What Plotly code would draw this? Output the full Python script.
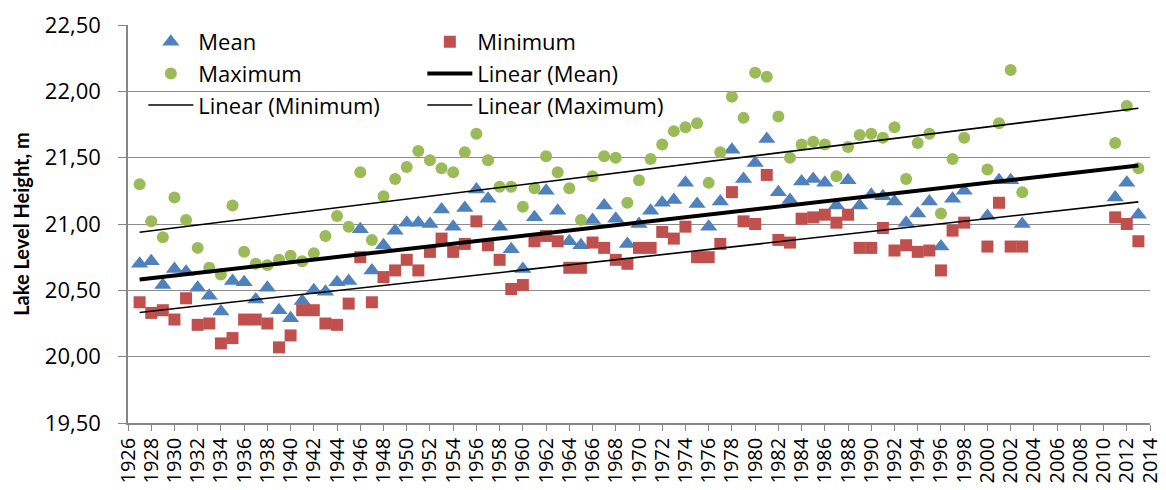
import numpy as np
import plotly.graph_objects as go

years = list(range(1927, 1999)) + [2000, 2001, 2002, 2003, 2011, 2012, 2013]

mean_vals = [20.70, 20.72, 20.54, 20.66, 20.64, 20.52, 20.46, 20.34, 20.57, 20.56,
             20.43, 20.52, 20.35, 20.29, 20.42, 20.50, 20.49, 20.56, 20.57, 20.96,
             20.65, 20.84, 20.95, 21.01, 21.01, 21.00, 21.11, 20.98, 21.12, 21.26,
             21.19, 20.98, 20.81, 20.66, 21.05, 21.25, 21.10, 20.87, 20.84, 21.03,
             21.14, 21.04, 20.85, 21.00, 21.10, 21.16, 21.18, 21.31, 21.15, 20.98,
             21.17, 21.56, 21.34, 21.46, 21.64, 21.24, 21.18, 21.32, 21.34, 21.31,
             21.14, 21.33, 21.14, 21.22, 21.21, 21.17, 21.01, 21.08, 21.17, 20.83,
             21.19, 21.25, 21.06, 21.33, 21.33, 21.00, 21.20, 21.31, 21.07]

min_vals = [20.41, 20.33, 20.35, 20.28, 20.44, 20.24, 20.25, 20.10, 20.14, 20.28,
            20.28, 20.25, 20.07, 20.16, 20.35, 20.35, 20.25, 20.24, 20.40, 20.75,
            20.41, 20.60, 20.65, 20.73, 20.65, 20.79, 20.89, 20.79, 20.85, 21.02,
            20.84, 20.73, 20.51, 20.54, 20.87, 20.91, 20.87, 20.67, 20.67, 20.86,
            20.82, 20.73, 20.70, 20.82, 20.82, 20.94, 20.89, 20.98, 20.75, 20.75,
            20.85, 21.24, 21.02, 21.00, 21.37, 20.88, 20.86, 21.04, 21.05, 21.07,
            21.01, 21.07, 20.82, 20.82, 20.97, 20.80, 20.84, 20.79, 20.80, 20.65,
            20.95, 21.01, 20.83, 21.16, 20.83, 20.83, 21.05, 21.00, 20.87]

max_vals = [21.30, 21.02, 20.90, 21.20, 21.03, 20.82, 20.67, 20.62, 21.14, 20.79,
            20.70, 20.69, 20.73, 20.76, 20.72, 20.78, 20.91, 21.06, 20.98, 21.39,
            20.88, 21.21, 21.34, 21.43, 21.55, 21.48, 21.42, 21.39, 21.54, 21.68,
            21.48, 21.28, 21.28, 21.13, 21.27, 21.51, 21.39, 21.27, 21.03, 21.36,
            21.51, 21.50, 21.16, 21.33, 21.49, 21.60, 21.70, 21.73, 21.76, 21.31,
            21.54, 21.96, 21.80, 22.14, 22.11, 21.81, 21.50, 21.60, 21.62, 21.60,
            21.36, 21.58, 21.67, 21.68, 21.65, 21.73, 21.34, 21.61, 21.68, 21.08,
            21.49, 21.65, 21.41, 21.76, 22.16, 21.24, 21.61, 21.89, 21.42]

FONT = "Open Sans"
TITLE_FONT = "Lato"
x = np.array(years, dtype=float)
x_line = np.array([x.min(), x.max()])


def trend(vals):
    k, b = np.polyfit(x, np.array(vals), 1)
    return k * x_line + b


fig = go.Figure()
fig.add_trace(go.Scatter(x=years, y=mean_vals, mode="markers", name="Mean",
                         marker=dict(symbol="triangle-up", size=15, color="#4F81BD"),
                         legend="legend"))
fig.add_trace(go.Scatter(x=years, y=min_vals, mode="markers", name="Minimum",
                         marker=dict(symbol="square", size=12, color="#C0504D"),
                         legend="legend2"))
fig.add_trace(go.Scatter(x=years, y=max_vals, mode="markers", name="Maximum",
                         marker=dict(symbol="circle", size=12, color="#9BBB59"),
                         legend="legend"))
fig.add_trace(go.Scatter(x=x_line, y=trend(mean_vals), mode="lines", name="Linear (Mean)",
                         line=dict(color="black", width=4), legend="legend2"))
fig.add_trace(go.Scatter(x=x_line, y=trend(min_vals), mode="lines", name="Linear (Minimum)",
                         line=dict(color="black", width=1.6), legend="legend"))
fig.add_trace(go.Scatter(x=x_line, y=trend(max_vals), mode="lines", name="Linear (Maximum)",
                         line=dict(color="black", width=1.6), legend="legend2"))

legend_common = dict(orientation="v", yanchor="top", y=1.01, xanchor="left",
                     bgcolor="rgba(0,0,0,0)", font=dict(family=FONT, size=22, color="black"),
                     itemwidth=45, tracegroupgap=0)

fig.update_layout(
    width=1166, height=490,
    margin=dict(l=128, r=16, t=25, b=67),
    paper_bgcolor="white", plot_bgcolor="white",
    separators=", ",
    font=dict(family=FONT, color="black"),
    showlegend=True,
    legend=dict(x=0.015, **legend_common),
    legend2=dict(x=0.288, **legend_common),
    xaxis=dict(range=[1926, 2014], dtick=2, tick0=1926, showgrid=False,
               showline=True, linecolor="#868686", linewidth=1.5,
               ticks="outside", ticklen=6, tickcolor="#868686",
               tickangle=-90, ticklabelstandoff=-1,
               tickfont=dict(family=FONT, size=20, color="black"),
               zeroline=False, automargin=False),
    yaxis=dict(range=[19.5, 22.5], dtick=0.5, tick0=19.5, tickformat=".2f",
               showgrid=True, gridcolor="#8C8C8C", gridwidth=1.2,
               showline=True, linecolor="#868686", linewidth=1.5,
               ticks="outside", ticklen=8, tickcolor="#868686",
               ticklabelstandoff=13,
               tickfont=dict(family=FONT, size=22, color="black"),
               zeroline=False, automargin=False,
               title=dict(text="<b>Lake Level Height, m</b>",
                          font=dict(family=TITLE_FONT, size=20, color="black"), standoff=10)),
)

fig.write_html("out.html", config={"displayModeBar": False},
               post_script="document.body.style.margin='0';document.body.style.padding='0';")
